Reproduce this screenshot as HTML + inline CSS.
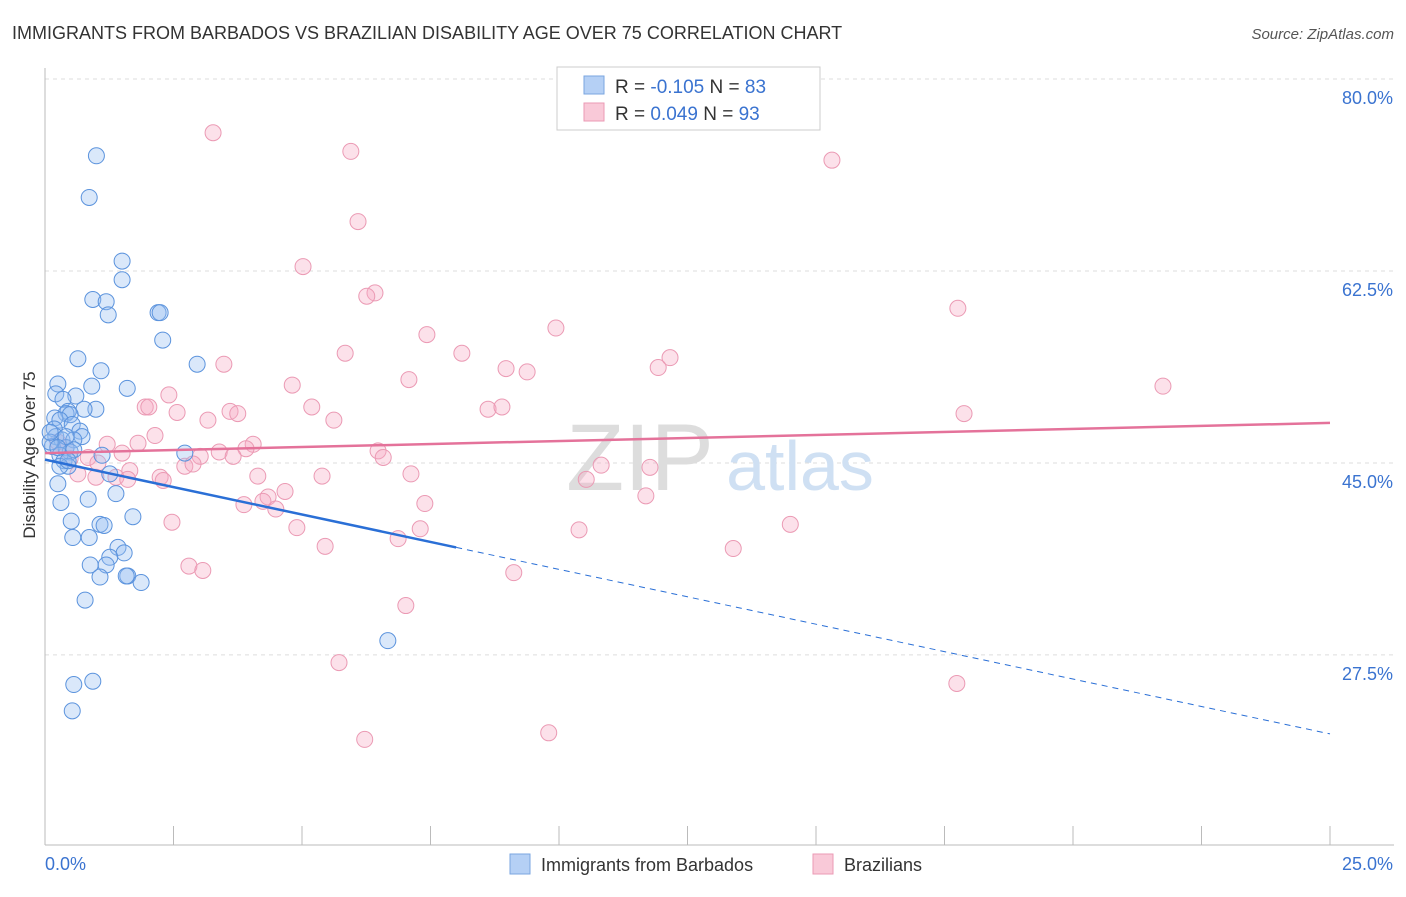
<!DOCTYPE html>
<html><head><meta charset="utf-8"><style>
body{margin:0;background:#fff;font-family:"Liberation Sans",sans-serif;}
svg text{font-family:"Liberation Sans",sans-serif;}
</style></head><body>
<svg width="1406" height="892" xmlns="http://www.w3.org/2000/svg">
<text x="12" y="39" font-size="18" fill="#333">IMMIGRANTS FROM BARBADOS VS BRAZILIAN DISABILITY AGE OVER 75 CORRELATION CHART</text>
<text x="1394" y="39" font-size="15" fill="#555" font-style="italic" text-anchor="end">Source: ZipAtlas.com</text>
<g id="grid"></g>
<text x="640" y="490" font-size="95" fill="#ddd" font-family="Liberation Serif" text-anchor="middle">ZIP</text>
<text x="800" y="490" font-size="70" fill="#cfe0f3" text-anchor="middle">atlas</text>
<g id="pts"></g>
<g id="lines"></g>
<text x="35" y="455" font-size="17" fill="#333" text-anchor="middle" transform="rotate(-90 35 455)">Disability Age Over 75</text>
<g>
<rect x="557" y="67" width="263" height="63" fill="#fff" stroke="#ccc"/>
<rect x="584" y="76" width="20" height="18" fill="#b5d0f5" stroke="#7aa6e0"/>
<rect x="584" y="103" width="20" height="18" fill="#f9c9d8" stroke="#eb9ab4"/>
<text x="615" y="93" font-size="19" fill="#333">R = <tspan fill="#3a73d0">-0.105</tspan>   N = <tspan fill="#3a73d0">83</tspan></text>
<text x="615" y="120" font-size="19" fill="#333">R =  <tspan fill="#3a73d0">0.049</tspan>   N = <tspan fill="#3a73d0">93</tspan></text>
</g>
<g>
<rect x="510" y="854" width="20" height="20" fill="#b5d0f5" stroke="#7aa6e0"/>
<text x="541" y="871" font-size="18" fill="#333">Immigrants from Barbados</text>
<rect x="813" y="854" width="20" height="20" fill="#f9c9d8" stroke="#eb9ab4"/>
<text x="844" y="871" font-size="18" fill="#333">Brazilians</text>
</g>
</svg>
<script>
const xTicks=[0,2.5,5,7.5,10,12.5,15,17.5,20,22.5,25];
const yTicks=[27.5,45,62.5,80];
const blueX=[1.0,0.86,1.5,1.5,0.93,1.19,1.23,2.2,2.24,2.29,0.64,2.96,1.09,1.6,0.91,0.25,0.21,0.6,0.35,0.99,0.76,0.45,0.41,0.49,0.19,0.29,0.53,0.18,0.68,0.72,0.21,0.33,0.56,0.14,0.41,0.49,0.29,0.37,0.45,0.29,2.72,1.11,1.26,1.38,0.25,0.84,0.31,1.71,0.51,1.07,1.15,0.54,0.86,1.42,1.54,1.26,0.88,1.19,1.61,1.58,1.07,1.87,0.78,6.67,0.56,0.93,0.53,0.1,0.1,0.56,0.41,0.45,0.25];
const blueY=[73.0,69.2,63.4,61.7,59.9,59.7,58.5,58.7,58.7,56.2,54.5,54.0,53.4,51.8,52.0,52.2,51.3,51.1,50.8,49.9,49.9,49.7,49.5,49.4,49.1,48.9,48.5,48.1,47.9,47.4,47.4,47.1,47.1,46.5,46.4,46.0,45.7,45.2,44.7,44.7,45.9,45.7,44.0,42.2,43.1,41.7,41.4,40.1,39.7,39.4,39.3,38.2,38.2,37.3,36.8,36.4,35.7,35.7,34.7,34.7,34.6,34.1,32.5,28.8,24.8,25.1,22.4,46.9,47.8,46.2,47.4,45.2,46.4];
const pinkX=[3.27,5.95,15.31,6.09,5.02,6.42,6.26,17.76,9.94,7.43,5.84,8.11,12.16,11.93,3.48,8.97,9.38,7.08,4.81,21.75,2.41,1.95,2.02,5.19,8.62,8.89,2.57,3.6,3.75,3.17,5.62,17.88,2.14,1.81,4.05,3.91,1.21,1.5,3.39,3.02,3.66,6.48,6.58,0.49,0.84,2.72,2.88,0.64,1.65,0.99,1.38,1.61,2.24,2.3,4.14,5.39,7.12,10.82,11.77,10.53,4.67,4.34,4.24,4.49,3.87,7.39,11.69,14.5,2.47,4.9,7.3,10.39,6.87,5.45,13.39,2.8,3.07,9.12,7.02,5.72,17.74,6.22,9.8,0.25,0.41,1.03];
const pinkY=[75.1,73.4,72.6,67.0,62.9,60.5,60.2,59.1,57.3,56.7,55.0,55.0,54.6,53.7,54.0,53.6,53.3,52.6,52.1,52.0,51.2,50.1,50.1,50.1,49.9,50.1,49.6,49.7,49.5,48.9,48.9,49.5,47.5,46.8,46.7,46.3,46.7,45.9,46.0,45.6,45.6,46.1,45.5,45.4,45.5,44.7,44.9,44.0,44.3,43.7,43.7,43.5,43.7,43.4,43.8,43.8,44.0,44.8,44.6,43.5,42.4,41.9,41.5,40.8,41.2,41.3,42.0,39.4,39.6,39.1,39.0,38.9,38.1,37.4,37.2,35.6,35.2,35.0,32.0,26.8,24.9,19.8,20.4,46.9,46.4,45.0];
const blueFit=[45.3,-1.0];
const pinkFit=[45.9,0.11];
const X=v=>45+v*51.4, Y=v=>79+(80-v)*10.97;
const NS="http://www.w3.org/2000/svg";
function mk(t,a,p){const e=document.createElementNS(NS,t);for(const k in a)e.setAttribute(k,a[k]);p.appendChild(e);return e;}
const g=document.getElementById('grid');
for(const t of yTicks){
const l=mk('line',{x1:45,x2:1394,y1:Y(t),y2:Y(t),stroke:'#ddd','stroke-dasharray':'4,4'},g);


const tx=mk('text',{x:1393,y:Y(t)+25,'font-size':18,fill:'#3a73d0','text-anchor':'end'},g);
tx.textContent=t.toFixed(1)+'%';


}
const ax=mk('line',{x1:45,x2:1394,y1:845,y2:845,stroke:'#bbb'},g);


const ay=mk('line',{x1:45,x2:45,y1:68,y2:845,stroke:'#bbb'},g);


for(const t of xTicks){
const l=mk('line',{x1:X(t),x2:X(t),y1:826,y2:845,stroke:'#bbb'},g);


}
const t0=mk('text',{x:45,y:870,'font-size':18,fill:'#3a73d0'},g);t0.textContent=xTicks[0].toFixed(1)+'%';


const t1=mk('text',{x:1393,y:870,'font-size':18,fill:'#3a73d0','text-anchor':'end'},g);t1.textContent=xTicks[xTicks.length-1].toFixed(1)+'%';


const p=document.getElementById('pts');
pinkX.forEach((x,i)=>{const c=mk('circle',{cx:X(x),cy:Y(pinkY[i]),r:8,fill:'rgba(246,170,195,0.35)',stroke:'#eb9ab4','stroke-width':1},p);

});
blueX.forEach((x,i)=>{const c=mk('circle',{cx:X(x),cy:Y(blueY[i]),r:8,fill:'rgba(150,190,240,0.35)',stroke:'#5b93dd','stroke-width':1},p);

});
const L=document.getElementById('lines');
const bf=v=>blueFit[0]+blueFit[1]*v, pf=v=>pinkFit[0]+pinkFit[1]*v;
const b1=mk('line',{x1:X(0),y1:Y(bf(0)),x2:X(8),y2:Y(bf(8)),stroke:'#2a6fd6','stroke-width':2.5},L);


const b2=mk('line',{x1:X(8),y1:Y(bf(8)),x2:X(25),y2:Y(bf(25)),stroke:'#2a6fd6','stroke-width':1,'stroke-dasharray':'6,5'},L);


const p1=mk('line',{x1:X(0),y1:Y(pf(0)),x2:X(25),y2:Y(pf(25)),stroke:'#e4729a','stroke-width':2.5},L);


</script>
</body></html>
